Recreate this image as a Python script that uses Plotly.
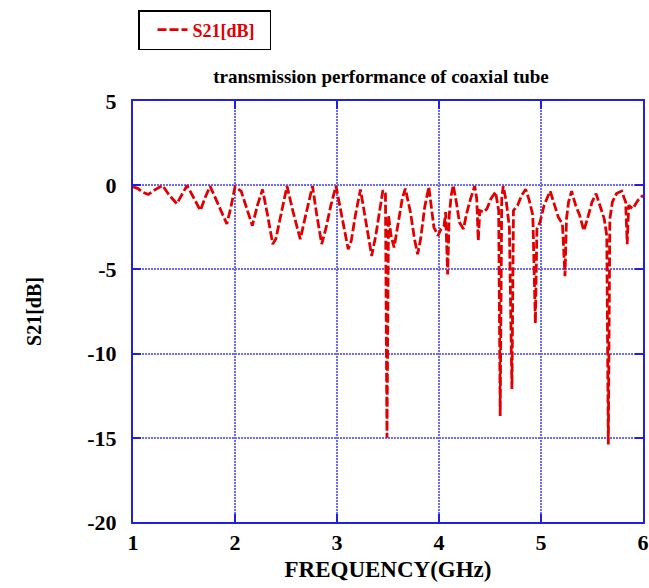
import plotly.graph_objects as go

freq = [1.00, 1.05, 1.09, 1.15, 1.22, 1.29, 1.35, 1.43, 1.48, 1.53, 1.60, 1.66, 1.71, 1.755,
        1.84, 1.92, 1.96, 2.00, 2.06, 2.11, 2.17, 2.22, 2.27, 2.32, 2.37, 2.40, 2.45, 2.51,
        2.57, 2.64, 2.70, 2.76, 2.80, 2.85, 2.89, 2.94, 2.99, 3.05, 3.11, 3.14, 3.18, 3.23,
        3.28, 3.34, 3.38, 3.42, 3.45, 3.475, 3.49, 3.505, 3.53, 3.56, 3.60, 3.64, 3.67, 3.72,
        3.76, 3.79, 3.82, 3.86, 3.90, 3.92, 3.95, 3.99, 4.02, 4.05, 4.065, 4.085, 4.10, 4.12,
        4.14, 4.17, 4.20, 4.24, 4.27, 4.31, 4.35, 4.37, 4.385, 4.40, 4.44, 4.47, 4.51, 4.555,
        4.585, 4.60, 4.615, 4.63, 4.66, 4.69, 4.715, 4.73, 4.77, 4.81, 4.85, 4.885, 4.92, 4.945,
        4.96, 4.99, 5.03, 5.09, 5.12, 5.17, 5.21, 5.235, 5.25, 5.27, 5.30, 5.34, 5.38, 5.42,
        5.46, 5.50, 5.54, 5.58, 5.62, 5.645, 5.66, 5.675, 5.70, 5.74, 5.79, 5.83, 5.845, 5.86,
        5.90, 5.95, 6.00]
s21 = [-0.10, -0.20, -0.40, -0.55, -0.25, -0.02, -0.55, -1.10, -0.55, -0.02, -0.80, -1.50, -0.70, -0.05,
       -1.20, -2.30, -1.30, -0.10, -0.35, -1.30, -2.40, -1.20, -0.25, -1.80, -3.50, -3.20, -1.80, -0.05,
       -1.60, -3.20, -1.60, -0.05, -1.70, -3.50, -2.60, -1.20, -0.05, -2.00, -3.80, -3.30, -1.80, -0.25,
       -2.00, -4.20, -3.00, -1.30, -0.30, -0.50, -15.0, -1.80, -3.00, -3.70, -2.20, -0.80, -0.20, -1.60,
       -3.20, -4.10, -3.20, -1.30, -0.10, -1.00, -2.50, -3.00, -2.60, -2.40, -1.60, -5.30, -1.80, -0.60,
       0.00, -1.00, -2.20, -2.60, -1.70, -0.80, -0.05, -0.80, -3.30, -1.50, -1.60, -1.40, -0.80, -0.40,
       -1.50, -13.7, -0.80, -0.05, -1.00, -2.50, -12.1, -1.50, -1.20, -0.60, -0.25, -0.90, -1.80, -8.2,
       -2.60, -2.20, -1.20, -0.35, -0.90, -1.90, -2.30, -5.40, -2.00, -1.00, -0.35, -1.20, -1.80, -2.70,
       -1.90, -1.00, -0.50, -1.20, -2.00, -3.00, -15.4, -2.00, -1.00, -0.50, -0.35, -1.00, -3.50, -1.20,
       -1.40, -0.90, -0.60]

x_ticks = [1, 2, 3, 4, 5, 6]
x_labels = ["1", "2", "3", "4", "5", "6"]
y_ticks = [5, 0, -5, -10, -15, -20]
y_labels = ["5", "0", "-5", "-10", "-15", "-20"]

series_name = "S21[dB]"
title_text = "transmission performance of coaxial tube"
x_title = "FREQUENCY(GHz)"
y_title = "S21[dB]"

FONT = "Liberation Serif"
RED = "#e00000"
BLUE = "#2020e0"
GRID = "#6a6aff"

fig = go.Figure()
fig.add_trace(go.Scatter(
    x=freq, y=s21, mode="lines", name=series_name + "\u00a0\u00a0",
    line=dict(color=RED, width=2.8, dash="9px,3px"),
))

axis_common = dict(
    showline=True, linecolor=BLUE, linewidth=2, mirror="allticks",
    ticks="inside", ticklen=8, tickwidth=2, tickcolor=BLUE,
    showgrid=True, gridcolor=GRID, gridwidth=1.5, griddash="2px,1px",
    zeroline=False, automargin=False,
    tickfont=dict(family=FONT, size=22, color="black", weight="bold"),
)

fig.update_layout(
    width=649, height=588,
    margin=dict(l=133, r=6, t=101, b=66, autoexpand=False),
    paper_bgcolor="white", plot_bgcolor="white",
    title=dict(text=title_text, x=381 / 649, xanchor="center", xref="container",
               y=1 - 76 / 588, yanchor="middle", yref="container",
               font=dict(family=FONT, size=19, color="black", weight="bold")),
    xaxis=dict(range=[1, 6], tickvals=x_ticks, ticktext=x_labels,
               title=dict(text=x_title, standoff=6,
                          font=dict(family=FONT, size=23, color="black", weight="bold")),
               **axis_common),
    yaxis=dict(range=[-20, 5], tickvals=y_ticks, ticktext=y_labels,
               ticklabelstandoff=10,
               title=dict(text=y_title, standoff=40,
                          font=dict(family=FONT, size=20, color="black", weight="bold")),
               **axis_common),
    showlegend=True,
    legend=dict(x=5 / 510, y=(522 - 10) / 421, xanchor="left", yanchor="top",
                bordercolor="black", borderwidth=1.5, bgcolor="white", indentation=13,
                font=dict(family=FONT, size=18, color=RED, weight="bold")),
)

fig.write_html("out.html")
